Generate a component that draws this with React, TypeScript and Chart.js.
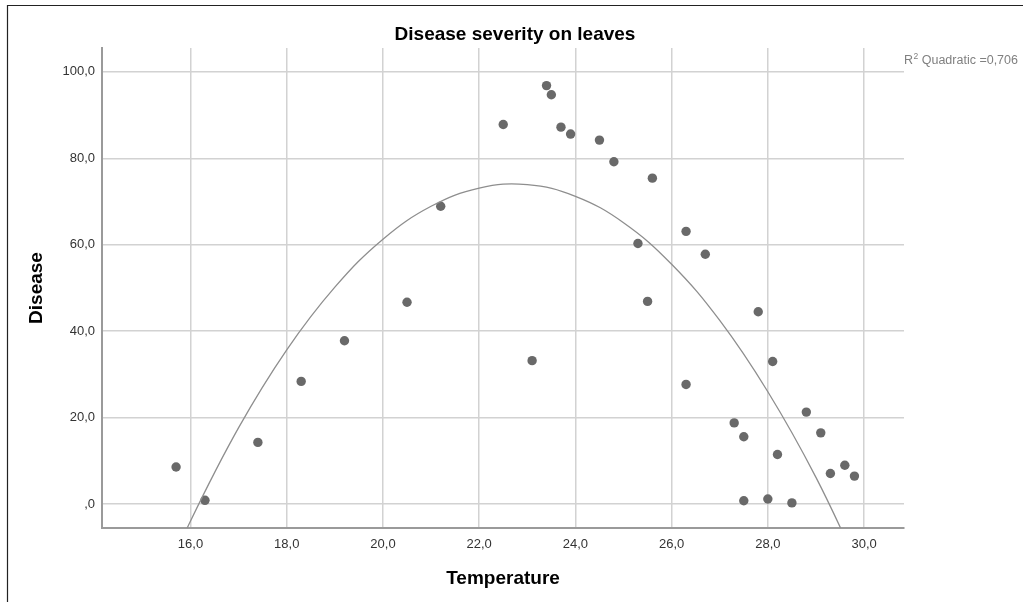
import React, { useEffect, useRef } from "react";
import { Chart, registerables } from "chart.js";

Chart.register(...registerables);

// ---- Data ----
const temperature = [
  15.7, 16.3, 17.4, 18.3, 19.2, 20.5, 21.2, 22.5, 23.1, 23.4,
  23.5, 23.7, 23.9, 24.5, 24.8, 25.6, 25.3, 26.3, 26.7, 25.5,
  27.8, 28.1, 26.3, 28.8, 27.3, 27.5, 29.1, 28.2, 29.6, 29.3,
  29.8, 27.5, 28.0, 28.5,
];
const disease = [
  8.6, 0.9, 14.3, 28.4, 37.8, 46.7, 68.9, 87.8, 33.2, 96.8,
  94.7, 87.2, 85.6, 84.2, 79.2, 75.4, 60.3, 63.1, 57.8, 46.9,
  44.5, 33.0, 27.7, 21.3, 18.8, 15.6, 16.5, 11.5, 9.0, 7.1,
  6.5, 0.8, 1.2, 0.3,
];
// Quadratic fit line at these temperatures
const fitTemperature = [15, 16, 17, 18, 19, 20, 21, 22, 23, 24, 25, 26, 27, 28, 29, 30];
const fitDisease = [-28.5, -3.9, 17.7, 35.7, 50.2, 61.3, 68.9, 73.1, 73.9, 71.2, 65.1, 55.5, 42.5, 26.0, 6.2, -17.2];
const xTicks = [16, 18, 20, 22, 24, 26, 28, 30];
const yTicks = [0, 20, 40, 60, 80, 100];
const chartTitle = "Disease severity on leaves";
const xTitle = "Temperature";
const yTitle = "Disease";
const r2Label = "0,706";
const X_MIN = 14.16;
const X_MAX = 30.83;
const Y_MIN = -5.5;
const Y_MAX = 105.5;

const FONT = "Arial, 'Liberation Sans', sans-serif";

const fmt = (v: number) => (v === 0 ? ",0" : v.toFixed(1).replace(".", ","));

const decorPlugin = {
  id: "decor",
  afterDraw(chart: any) {
    const ctx = chart.ctx;
    ctx.save();
    // frame
    ctx.strokeStyle = "#222";
    ctx.lineWidth = 1.2;
    ctx.beginPath();
    ctx.moveTo(7.5, 602);
    ctx.lineTo(7.5, 5.5);
    ctx.lineTo(1023, 5.5);
    ctx.stroke();
    // title
    ctx.fillStyle = "#000";
    ctx.font = `bold 19px ${FONT}`;
    ctx.textAlign = "center";
    ctx.textBaseline = "alphabetic";
    ctx.fillText(chartTitle, 515, 40);
    // R² label
    ctx.fillStyle = "#808080";
    ctx.textAlign = "left";
    ctx.font = `12.5px ${FONT}`;
    let x = 904;
    ctx.fillText("R", x, 64);
    x += ctx.measureText("R").width;
    ctx.font = `8.5px ${FONT}`;
    ctx.fillText("2", x + 0.5, 58.5);
    x += ctx.measureText("2").width + 0.5;
    ctx.font = `12.5px ${FONT}`;
    ctx.fillText(" Quadratic =" + r2Label, x, 64);
    ctx.restore();
  },
};

export default function App() {
  const ref = useRef<HTMLCanvasElement | null>(null);

  useEffect(() => {
    if (!ref.current) return;
    const curve = fitTemperature.map((t, i) => ({ x: t, y: fitDisease[i] }));
    const points = temperature.map((t, i) => ({ x: t, y: disease[i] }));

    const chart = new Chart(ref.current, {
      type: "scatter",
      data: {
        datasets: [
          {
            label: "Quadratic fit",
            data: curve,
            showLine: true,
            tension: 0.4,
            borderColor: "#8e8e8e",
            borderWidth: 1.3,
            pointRadius: 0,
            fill: false,
          } as any,
          {
            label: "Disease",
            data: points,
            backgroundColor: "#696969",
            borderWidth: 0,
            pointRadius: 4.7,
          },
        ],
      },
      plugins: [decorPlugin],
      options: {
        responsive: false,
        animation: false,
        events: [],
        layout: { padding: { left: 0, right: 119, top: 48, bottom: 0 } },
        plugins: {
          legend: { display: false },
          title: { display: false },
          tooltip: { enabled: false },
        },
        scales: {
          x: {
            type: "linear",
            min: X_MIN,
            max: X_MAX,
            afterBuildTicks: (s: any) => {
              s.ticks = xTicks.map((v) => ({ value: v }));
            },
            afterFit: (s: any) => {
              s.height = 74;
            },
            ticks: {
              callback: (v: any) => fmt(Number(v)),
              font: { family: FONT, size: 13 },
              color: "#333",
              padding: 9,
              maxRotation: 0,
            },
            grid: { color: "#d2d2d2", lineWidth: 1.5, drawTicks: false },
            border: { display: true, color: "#9a9a9a", width: 2 },
            title: {
              display: true,
              text: xTitle,
              font: { family: FONT, size: 19, weight: "bold" },
              color: "#000",
              padding: { top: 0, bottom: 12 },
            },
          },
          y: {
            type: "linear",
            min: Y_MIN,
            max: Y_MAX,
            afterBuildTicks: (s: any) => {
              s.ticks = yTicks.map((v) => ({ value: v }));
            },
            afterFit: (s: any) => {
              s.width = 102;
            },
            ticks: {
              callback: (v: any) => fmt(Number(v)),
              font: { family: FONT, size: 13 },
              color: "#333",
              padding: 7,
            },
            grid: { color: "#d2d2d2", lineWidth: 1.5, drawTicks: false },
            border: { display: true, color: "#9a9a9a", width: 2 },
            title: {
              display: true,
              text: yTitle,
              font: { family: FONT, size: 19, weight: "bold" },
              color: "#000",
              padding: { top: 25, bottom: 0 },
            },
          },
        },
      } as any,
    });
    return () => chart.destroy();
  }, []);

  return (
    <div style={{ position: "fixed", left: 0, top: 0, width: 1023, height: 602, background: "#fff" }}>
      <canvas ref={ref} width={1023} height={602} style={{ display: "block", width: 1023, height: 602 }} />
    </div>
  );
}
